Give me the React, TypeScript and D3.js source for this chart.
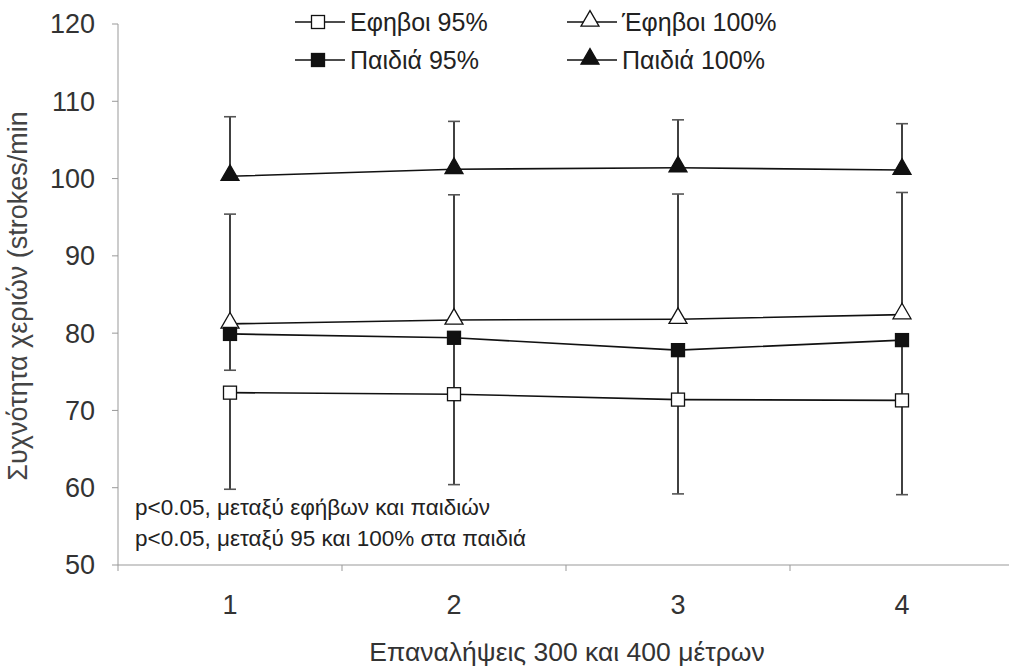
import React from 'react';
import * as d3 from 'd3';

// repetitions on the x axis
const reps = ['1', '2', '3', '4'];
const yTicks = [50, 60, 70, 80, 90, 100, 110, 120];

// mean values per series
const teens95 = [72.3, 72.1, 71.4, 71.3];
const teens100 = [81.2, 81.7, 81.8, 82.4];
const kids95 = [79.9, 79.4, 77.8, 79.1];
const kids100 = [100.3, 101.2, 101.4, 101.1];

// error bar ends (one-sided, as drawn in the original)
const teens95Low = [59.8, 60.4, 59.2, 59.1];
const teens100High = [95.4, 97.9, 98.0, 98.2];
const kids95Low = [75.2, 72.5, 71.8, 71.6];
const kids100High = [108.0, 107.4, 107.6, 107.1];

const series = [
  { name: 'Εφηβοι 95%', values: teens95, err: teens95Low, shape: 'square', fill: '#fff' },
  { name: 'Έφηβοι 100%', values: teens100, err: teens100High, shape: 'triangle', fill: '#fff' },
  { name: 'Παιδιά 95%', values: kids95, err: kids95Low, shape: 'square', fill: '#111' },
  { name: 'Παιδιά 100%', values: kids100, err: kids100High, shape: 'triangle', fill: '#111' },
];

const notes = [
  'p<0.05, μεταξύ εφήβων και παιδιών',
  'p<0.05, μεταξύ 95 και 100% στα παιδιά',
];

const font = '"Liberation Sans", Arial, sans-serif';

function Marker({ cx, cy, shape, fill }: { cx: number; cy: number; shape: string; fill: string }) {
  if (shape === 'square') {
    return <rect x={cx - 6.5} y={cy - 6.5} width={13} height={13} fill={fill} stroke="#111" strokeWidth={1.3} />;
  }
  const sym = d3.symbol().type(d3.symbolTriangle).size(140)();
  return <path d={sym || ''} transform={`translate(${cx},${cy - 1})`} fill={fill} stroke="#111" strokeWidth={1.3} />;
}

export default function App() {
  const x = d3.scaleBand().domain(reps).range([118, 1014]).padding(0);
  const y = d3.scaleLinear().domain([50, 120]).range([565, 24]);
  const cx = (r: string) => (x(r) || 0) + x.bandwidth() / 2;
  const line = d3
    .line<number>()
    .x((_, i) => cx(reps[i]))
    .y((d) => y(d));

  const legendPos = [
    { lx: 295, ly: 22 },
    { lx: 567, ly: 22 },
    { lx: 295, ly: 60 },
    { lx: 567, ly: 60 },
  ];

  return (
    <svg width={1009} height={669} style={{ position: 'absolute', left: 0, top: 0, background: '#fff' }} fontFamily={font}>
      {/* axes */}
      <line x1={118} x2={118} y1={24} y2={565} stroke="#999" strokeWidth={1} />
      <line x1={118} x2={1009} y1={565} y2={565} stroke="#999" strokeWidth={1} />
      {yTicks.map((t) => (
        <g key={t}>
          <line x1={112} x2={118} y1={y(t)} y2={y(t)} stroke="#999" />
          <text x={95} y={y(t)} dy="0.35em" textAnchor="end" fontSize={27} fill="#333">
            {t}
          </text>
        </g>
      ))}
      {reps.map((r) => (
        <g key={r}>
          <line x1={x(r)} x2={x(r)} y1={565} y2={571} stroke="#999" />
          <text x={cx(r)} y={614} textAnchor="middle" fontSize={27} fill="#333">
            {r}
          </text>
        </g>
      ))}
      <text x={567} y={661} textAnchor="middle" fontSize={26.5} fill="#333">
        Επαναλήψεις 300 και 400 μέτρων
      </text>
      <text transform="translate(27,296) rotate(-90)" textAnchor="middle" fontSize={27} fill="#444">
        Συχνότητα χεριών (strokes/min
      </text>

      {/* series lines */}
      {series.map((s) => (
        <path key={s.name} d={line(s.values) || ''} fill="none" stroke="#111" strokeWidth={1.6} />
      ))}

      {/* error bars */}
      {series.map((s) =>
        s.err.map((e, i) => (
          <g key={s.name + i}>
            <line x1={cx(reps[i])} x2={cx(reps[i])} y1={y(s.values[i])} y2={y(e)} stroke="#111" strokeWidth={1.6} />
            <line x1={cx(reps[i]) - 6} x2={cx(reps[i]) + 6} y1={y(e)} y2={y(e)} stroke="#555" strokeWidth={1.6} />
          </g>
        ))
      )}

      {/* markers */}
      {series.map((s) =>
        s.values.map((v, i) => <Marker key={s.name + 'm' + i} cx={cx(reps[i])} cy={y(v)} shape={s.shape} fill={s.fill} />)
      )}

      {/* notes */}
      {notes.map((n, i) => (
        <text key={n} x={135} y={515 + i * 31} fontSize={22.5} fill="#222">
          {n}
        </text>
      ))}

      {/* legend */}
      {series.map((s, i) => {
        const p = legendPos[i];
        return (
          <g key={s.name + 'leg'}>
            <line x1={p.lx} x2={p.lx + 50} y1={p.ly} y2={p.ly} stroke="#111" strokeWidth={1.6} />
            <Marker cx={p.lx + 23} cy={p.ly} shape={s.shape} fill={s.fill} />
            <text x={p.lx + 55} y={p.ly} dy="0.35em" fontSize={25} fill="#222">
              {s.name}
            </text>
          </g>
        );
      })}
    </svg>
  );
}
